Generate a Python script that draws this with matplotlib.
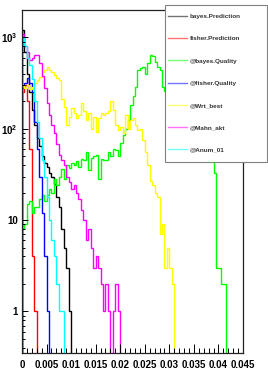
import numpy as np
import matplotlib
matplotlib.use('Agg')
import matplotlib.pyplot as plt
from matplotlib.patches import Rectangle
from matplotlib.ticker import LogLocator, MultipleLocator, FuncFormatter, NullFormatter

plt.rcParams['font.family'] = ['Liberation Sans', 'DejaVu Sans']
plt.rcParams['font.weight'] = 'bold'
plt.rcParams['mathtext.fontset'] = 'custom'
plt.rcParams['mathtext.rm'] = 'Liberation Sans:bold'
plt.rcParams['mathtext.bf'] = 'Liberation Sans:bold'

# bin edges: 90 bins of 0.0005
nbins = 90
x_lo, x_hi = 0.0, 0.045

# counts per bin (trailing bins are empty)
bayes_pred = [1200, 700, 400, 250, 160, 110, 80, 65, 50, 42, 38, 33, 30, 25, 18, 14, 8, 5, 3, 1]
fisher_pred = [250, 300, 200, 60, 4, 1]
bayes_qual = [8, 9, 15, 16, 12, 14, 14, 17, 19, 16, 19, 22, 20, 28, 24, 30, 36, 28, 40, 37,
              42, 40, 44, 38, 47, 45, 55, 35, 48, 50, 52, 28, 47, 46, 45, 55, 50, 60, 58, 50,
              70, 85, 100, 125, 180, 230, 290, 440, 460, 470, 400, 520, 650, 630, 540, 470, 440, 290, 260, 230,
              200, 190, 170, 160, 140, 130, 120, 110, 100, 95, 90, 85, 80, 75, 70, 65, 60, 50, 33, 3,
              3, 2, 2]
fisher_qual = [280, 320, 360, 320, 250, 120, 60, 30, 12, 4, 1]
wrt_best = [300, 280, 300, 270, 290, 320, 345, 370, 420, 440, 470, 440, 420, 390, 360, 345, 210, 175, 110, 135,
            170, 150, 130, 140, 190, 155, 125, 150, 100, 135, 92, 130, 150, 140, 150, 155, 200, 160, 110, 97,
            105, 90, 140, 100, 125, 130, 110, 97, 100, 75, 55, 40, 27, 24, 20, 18, 7, 9, 3, 5,
            3, 2]
mahn_akt = [1100, 800, 700, 560, 600, 650, 640, 520, 380, 280, 190, 140, 110, 90, 68, 52, 45, 40, 30, 26,
            22, 24, 20, 17, 13, 10, 6, 8, 5, 3, 4, 3, 2, 1, 2, 1, 0, 1, 2, 1]
anum_01 = [1000, 800, 600, 500, 350, 200, 120, 80, 45, 30, 18, 10, 6, 4, 2, 1, 1]

names = ['bayes.Prediction', 'fisher.Prediction', '@bayes.Quality', '@fisher.Quality',
         '@Wrt_best', '@Mahn_akt', '@Anum_01']
colors = ['#000000', '#ff0000', '#00ff00', '#0000ff', '#ffff00', '#ff00ff', '#00ffff']
series = [bayes_pred, fisher_pred, bayes_qual, fisher_qual, wrt_best, mahn_akt, anum_01]

edges = np.linspace(x_lo, x_hi, nbins + 1)

W, H = 268, 369
fig = plt.figure(figsize=(W/100, H/100), dpi=100)
ax = fig.add_axes([22/W, 1 - 353/H, (243 - 22)/W, (353 - 10)/H])

for vals, c, n in zip(series, colors, names):
    h = np.zeros(nbins)
    h[:len(vals)] = vals
    # empty bins drop below the visible range like ROOT does
    h = np.clip(h, 1e-3, None)
    ax.stairs(h, edges, color=c, lw=1.0, label=n, baseline=1e-3)

ax.set_yscale('log')
ax.set_xlim(x_lo, x_hi)
ax.set_ylim(0.35, 2000)

def ylab(v, pos):
    if v == 1:
        return '1'
    if v == 10:
        return '10'
    return r'$10^{%d}$' % int(round(np.log10(v)))

ax.yaxis.set_major_locator(LogLocator(base=10))
ax.yaxis.set_minor_locator(LogLocator(base=10, subs=np.arange(2, 10)))
ax.yaxis.set_major_formatter(FuncFormatter(ylab))
ax.yaxis.set_minor_formatter(NullFormatter())
ax.xaxis.set_major_locator(MultipleLocator(0.005))
ax.xaxis.set_minor_locator(MultipleLocator(0.001))
ax.xaxis.set_major_formatter(FuncFormatter(lambda v, p: ('%g' % round(v, 4))))

ax.tick_params(axis='x', which='major', direction='in', length=6.5, width=0.7, labelsize=7, pad=5)
ax.tick_params(axis='x', which='minor', direction='in', length=3.5, width=0.7)
ax.tick_params(axis='y', which='major', direction='in', length=4.5, width=0.7, labelsize=7, pad=3)
ax.tick_params(axis='y', which='minor', direction='in', length=2.5, width=0.7)
for lab in ax.get_xticklabels() + ax.get_yticklabels():
    lab.set_fontweight('bold')
for s in ax.spines.values():
    s.set_linewidth(0.9)
    s.set_color('#222222')

# legend box (ROOT TLegend style), drawn in figure pixels
box = Rectangle((165/W, 1 - 162/H), 102/W, 157/H, transform=fig.transFigure,
                facecolor='white', edgecolor='#808080', lw=0.8, zorder=5, clip_on=False)
ax.add_patch(box)
leg = ax.legend(loc='upper left', bbox_to_anchor=(168/W, 1 - 13.5/H, 97/W, 0),
                bbox_transform=fig.transFigure, mode='expand', fontsize=4.6,
                frameon=False, labelspacing=2.63, handlelength=3.0, handletextpad=0.4,
                borderpad=0.0, borderaxespad=0)
leg.set_zorder(6)
for t in leg.get_texts():
    t.set_fontweight('bold')
    t.set_color('#333333')
for h in leg.legend_handles:
    h.set_alpha(0.55)

fig.savefig('out.png', dpi=100)
